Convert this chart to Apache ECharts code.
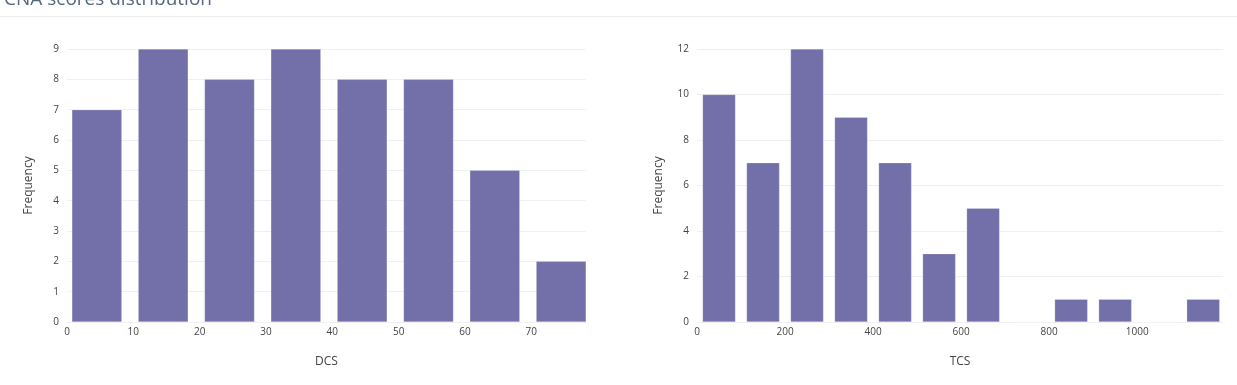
<!DOCTYPE html>
<html>
<head>
<meta charset="utf-8">
<script src="https://cdn.jsdelivr.net/npm/echarts@6/dist/echarts.min.js"></script>
<style>
  html, body { margin: 0; padding: 0; background: #fff; }
  #chart { width: 1237px; height: 385px; }
</style>
</head>
<body>
<div id="chart"></div>
<script>
// DCS histogram (bin centres, counts)
const dcsBinCenters = [4.5, 14.5, 24.5, 34.5, 44.5, 54.5, 64.5, 74.5]
const dcsCounts = [7, 9, 8, 9, 8, 8, 5, 2]
// TCS histogram
const tcsBinCenters = [50, 150, 250, 350, 450, 550, 650, 750, 850, 950, 1050, 1150]
const tcsCounts = [10, 7, 12, 9, 7, 3, 5, 0, 1, 1, 0, 1]

const barColor = '#7370a9'
const font = '"Open Sans", sans-serif'

const chart = echarts.init(document.getElementById('chart'))

const xAxisBase = (name, max, interval, gridIndex) => ({
    gridIndex,
    type: 'value',
    name,
    nameLocation: 'middle',
    nameGap: 34,
    nameTextStyle: { color: '#444', fontSize: 12, fontFamily: font },
    min: 0,
    max,
    interval,
    axisLine: { show: false },
    axisTick: { show: false },
    splitLine: { show: false },
    axisLabel: {
        color: '#444', fontSize: 10, fontFamily: font, margin: 5, showMaxLabel: false,
        formatter: (v) => String(v)
    }
})

const yAxisBase = (max, interval, gridIndex) => ({
    gridIndex,
    type: 'value',
    name: 'Frequency',
    nameLocation: 'middle',
    nameGap: 32,
    nameTextStyle: { color: '#444', fontSize: 12, fontFamily: font },
    min: 0,
    max,
    interval,
    axisLine: { show: false },
    axisTick: { show: false },
    splitLine: { show: true, lineStyle: { color: '#f0f0f0', width: 1 } },
    axisLabel: { color: '#444', fontSize: 10, fontFamily: font, margin: 8 }
})

const option = {
    animation: false,
    graphic: [
        {
            // page heading, partly cut off at the top edge
            type: 'text',
            x: 4,
            y: 9,
            style: {
                text: 'CNA scores distribution',
                fill: '#55687f',
                font: '19px ' + font,
                textVerticalAlign: 'bottom'
            }
        },
        {
            type: 'line',
            shape: { x1: 0, y1: 16.5, x2: 1237, y2: 16.5 },
            style: { stroke: '#eeeeee', lineWidth: 1 }
        }
    ],
    grid: [
        { left: 67, right: 651, top: 49, bottom: 63 },
        { left: 697, right: 14, top: 49, bottom: 63 }
    ],
    xAxis: [
        xAxisBase('DCS', 78.25, 10, 0),
        xAxisBase('TCS', 1195, 200, 1)
    ],
    yAxis: [
        yAxisBase(9, 1, 0),
        yAxisBase(12, 2, 1)
    ],
    series: [
        {
            type: 'bar',
            xAxisIndex: 0,
            yAxisIndex: 0,
            barWidth: 50,
            itemStyle: { color: barColor, borderColor: 'rgba(255,255,255,0.4)', borderWidth: 0.5 },
            data: dcsBinCenters.map((c, i) => [c, dcsCounts[i]])
        },
        {
            type: 'bar',
            xAxisIndex: 1,
            yAxisIndex: 1,
            barWidth: 33,
            itemStyle: { color: barColor, borderColor: 'rgba(255,255,255,0.4)', borderWidth: 0.5 },
            data: tcsBinCenters.map((c, i) => [c, tcsCounts[i]])
        }
    ]
}

chart.setOption(option)
</script>
</body>
</html>
